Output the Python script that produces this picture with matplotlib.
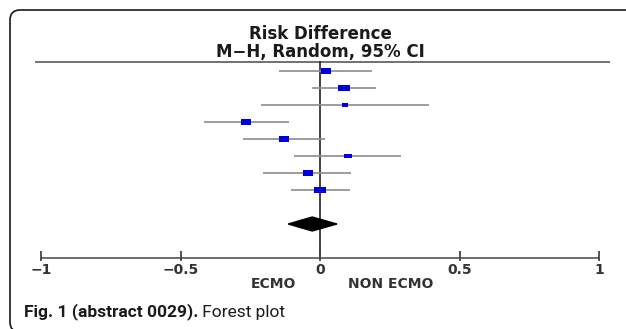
import matplotlib
matplotlib.use("Agg")
import matplotlib.pyplot as plt
from matplotlib.patches import PathPatch
from matplotlib.path import Path
from matplotlib.transforms import IdentityTransform
from matplotlib import font_manager

# ---- data ----
study_est = [0.021, 0.087, 0.090, -0.264, -0.130, 0.099, -0.043, 0.001]
study_lo = [-0.146, -0.029, -0.211, -0.414, -0.276, -0.093, -0.203, -0.104]
study_hi = [0.186, 0.200, 0.389, -0.111, 0.017, 0.290, 0.111, 0.107]
weights = [12.5, 15.5, 4.5, 12.5, 15.0, 6.5, 12.5, 15.5]
pooled = [-0.114, -0.028, 0.061]  # lo, est, hi
tick_values = [-1, -0.5, 0, 0.5, 1]
tick_labels = ["\u22121", "\u22120.5", "0", "0.5", "1"]
title_lines = ["Risk Difference", "M\u2212H, Random, 95% CI"]
side_labels = ["ECMO", "NON ECMO"]
caption_bold = "Fig. 1 (abstract 0029)."
caption_rest = " Forest plot"

W, H = 626, 329
fig = plt.figure(figsize=(W / 100, H / 100), dpi=100)
ax = fig.add_axes([0, 0, 1, 1])
ax.set_axis_off()

# pixel mapping: x_px = 320 + 279*v ; y_px = 71 + 17*row
X0, XS = 320.0, 279.0
Y0, YS = 71.0, 17.0
ax.set_xlim(-X0 / XS, (W - X0) / XS)
ax.set_ylim((H - Y0) / YS, -Y0 / YS)

def px2v(px):
    return (px - X0) / XS

def py2r(py):
    return (py - Y0) / YS

rows = list(range(len(study_est)))
pool_row = 9
axis_row = py2r(258)
top_row = py2r(62)

# top rule
ax.plot([px2v(35), px2v(610)], [top_row, top_row], color="#666666", lw=1.3,
        solid_capstyle="butt")
# zero line
ax.plot([0, 0], [top_row, axis_row], color="#222222", lw=1.2)

# CIs
for r, lo, hi in zip(rows, study_lo, study_hi):
    ax.plot([lo, hi], [r, r], color="#8c8c8c", lw=1.2, solid_capstyle="butt",
            zorder=2)

# boxes
rect = [(-1, -0.6), (1, -0.6), (1, 0.6), (-1, 0.6), (-1, -0.6)]
for r, e, w in zip(rows, study_est, weights):
    wpx = 2.8 * w ** 0.5
    ax.plot([e], [r], marker=rect, markersize=wpx * 0.72, color="#0000dd",
            markeredgewidth=0, linestyle="none", zorder=3)

# pooled diamond
h = 7.0 / YS
ax.fill([pooled[0], pooled[1], pooled[2], pooled[1]],
        [pool_row, pool_row - h, pool_row, pool_row + h], color="black",
        zorder=3)

# x axis
ax.plot([tick_values[0], tick_values[-1]], [axis_row, axis_row],
        color="#555555", lw=1.2, solid_capstyle="butt")
ax.vlines(tick_values, py2r(251), py2r(261), color="#444444", lw=1.3)
for v, lab in zip(tick_values, tick_labels):
    ax.text(v, py2r(270), lab, ha="center", va="center", fontsize=10,
            fontweight="bold", color="#333333", family="DejaVu Sans")

# side labels
ax.text(px2v(273), py2r(284), side_labels[0], ha="center", va="center",
        fontsize=10, fontweight="bold", color="#333333")
ax.text(px2v(391), py2r(284), side_labels[1], ha="center", va="center",
        fontsize=10, fontweight="bold", color="#333333")

# titles
fig.text(320 / W, 1 - 34 / H, title_lines[0], ha="center", va="center",
         fontsize=12, fontweight="bold", color="#1a1a1a")
fig.text(320 / W, 1 - 52 / H, title_lines[1], ha="center", va="center",
         fontsize=12, fontweight="bold", color="#1a1a1a")

# border: only the left side with rounded corners; top/bottom run off image
top_y = H - 10
bot_y = -3
xl, r = 10, 10
verts = [(W + 2, top_y), (xl + r, top_y), (xl, top_y), (xl, top_y - r),
         (xl, bot_y + r), (xl, bot_y), (xl + r, bot_y), (W + 2, bot_y)]
codes = [Path.MOVETO, Path.LINETO, Path.CURVE3, Path.CURVE3,
         Path.LINETO, Path.CURVE3, Path.CURVE3, Path.LINETO]
border = PathPatch(Path(verts, codes), transform=IdentityTransform(),
                   fill=False, edgecolor="#1a1a1a", lw=1.2)
fig.patches.append(border)

# caption
names = {f.name for f in font_manager.fontManager.ttflist}
cap_fam = ["Liberation Sans Narrow"] if "Liberation Sans Narrow" in names else ["Roboto"]
t1 = fig.text(24 / W, 1 - 312 / H, caption_bold, ha="left", va="center",
              fontsize=12.5, fontweight="bold", color="#1a1a1a", family=cap_fam)
fig.canvas.draw()
bb = t1.get_window_extent(fig.canvas.get_renderer())
fig.text(bb.x1 / W, 1 - 312 / H, caption_rest, ha="left", va="center",
         fontsize=12.5, color="#1a1a1a", family=cap_fam)

fig.savefig("out.png", dpi=100)
